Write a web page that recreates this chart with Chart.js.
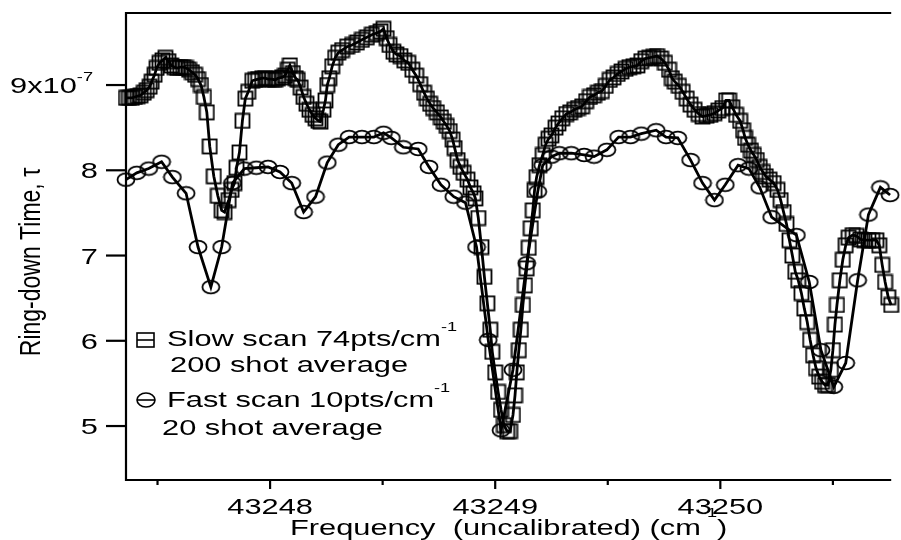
<!DOCTYPE html>
<html>
<head>
<meta charset="utf-8">
<title>Ring-down time vs frequency</title>
<script src="https://cdn.jsdelivr.net/npm/chart.js@4.4.1/dist/chart.umd.min.js"></script>
<style>
  html, body { margin: 0; padding: 0; background: #fff; }
</style>
</head>
<body>
<canvas id="ringdownChart" width="901" height="540"></canvas>
<script>
// Frequency in cm-1 (uncalibrated), ring-down time in units of 1e-7 s
const slowFreq = [
    43247.360, 43247.373, 43247.386, 43247.399, 43247.412, 43247.425, 43247.439, 43247.452, 43247.465, 43247.474,
    43247.487, 43247.496, 43247.509, 43247.522, 43247.535, 43247.548, 43247.561, 43247.575, 43247.588, 43247.601,
    43247.614, 43247.627, 43247.640, 43247.653, 43247.667, 43247.680, 43247.693, 43247.706, 43247.719, 43247.732,
    43247.750, 43247.768, 43247.785, 43247.798, 43247.816, 43247.829, 43247.842, 43247.851, 43247.864, 43247.877,
    43247.890, 43247.903, 43247.921, 43247.934, 43247.947, 43247.965, 43247.978, 43247.991, 43248.009, 43248.022,
    43248.035, 43248.053, 43248.066, 43248.079, 43248.088, 43248.101, 43248.114, 43248.123, 43248.136, 43248.149,
    43248.162, 43248.175, 43248.189, 43248.202, 43248.215, 43248.224, 43248.237, 43248.246, 43248.254, 43248.263,
    43248.276, 43248.289, 43248.303, 43248.320, 43248.342, 43248.364, 43248.386, 43248.408, 43248.430, 43248.452,
    43248.474, 43248.491, 43248.504, 43248.518, 43248.531, 43248.548, 43248.561, 43248.579, 43248.596, 43248.614,
    43248.632, 43248.649, 43248.667, 43248.684, 43248.697, 43248.711, 43248.724, 43248.741, 43248.759, 43248.772,
    43248.785, 43248.798, 43248.811, 43248.820, 43248.833, 43248.846, 43248.860, 43248.877, 43248.890, 43248.904,
    43248.912, 43248.925, 43248.939, 43248.952, 43248.965, 43248.978, 43248.987, 43249.000, 43249.013, 43249.026,
    43249.039, 43249.053, 43249.066, 43249.079, 43249.088, 43249.096, 43249.105, 43249.114, 43249.123, 43249.132,
    43249.140, 43249.149, 43249.158, 43249.167, 43249.175, 43249.184, 43249.197, 43249.211, 43249.224, 43249.237,
    43249.250, 43249.268, 43249.281, 43249.298, 43249.316, 43249.333, 43249.351, 43249.368, 43249.386, 43249.404,
    43249.421, 43249.439, 43249.456, 43249.474, 43249.491, 43249.509, 43249.526, 43249.544, 43249.561, 43249.579,
    43249.596, 43249.614, 43249.632, 43249.649, 43249.667, 43249.684, 43249.702, 43249.719, 43249.737, 43249.754,
    43249.772, 43249.785, 43249.798, 43249.816, 43249.833, 43249.851, 43249.868, 43249.886, 43249.904, 43249.921,
    43249.939, 43249.956, 43249.974, 43249.991, 43250.009, 43250.026, 43250.039, 43250.053, 43250.070, 43250.088,
    43250.101, 43250.110, 43250.123, 43250.136, 43250.149, 43250.162, 43250.175, 43250.189, 43250.202, 43250.219,
    43250.237, 43250.254, 43250.268, 43250.281, 43250.294, 43250.307, 43250.320, 43250.333, 43250.346, 43250.360,
    43250.373, 43250.386, 43250.399, 43250.412, 43250.425, 43250.439, 43250.452, 43250.465, 43250.478, 43250.491,
    43250.500, 43250.509, 43250.518, 43250.531, 43250.544, 43250.557, 43250.570, 43250.588, 43250.605, 43250.623,
    43250.640, 43250.658, 43250.675, 43250.693, 43250.706, 43250.719, 43250.732, 43250.746, 43250.759
];
const slowTau = [
    8.85, 8.85, 8.85, 8.86, 8.87, 8.88, 8.91, 8.94, 8.98, 9.04,
    9.12, 9.20, 9.26, 9.29, 9.32, 9.28, 9.23, 9.21, 9.20, 9.21,
    9.21, 9.20, 9.18, 9.15, 9.12, 9.07, 9.00, 8.86, 8.68, 8.28,
    7.93, 7.70, 7.53, 7.51, 7.65, 7.77, 7.85, 8.03, 8.21, 8.58,
    8.84, 8.92, 9.05, 9.06, 9.07, 9.08, 9.08, 9.07, 9.07, 9.06,
    9.08, 9.09, 9.11, 9.18, 9.23, 9.14, 9.08, 9.06, 8.97, 8.86,
    8.78, 8.71, 8.65, 8.61, 8.58, 8.57, 8.71, 8.82, 9.00, 9.08,
    9.22, 9.32, 9.38, 9.41, 9.45, 9.47, 9.50, 9.53, 9.56, 9.59,
    9.61, 9.63, 9.66, 9.55, 9.47, 9.39, 9.36, 9.34, 9.29, 9.26,
    9.18, 9.11, 9.01, 8.91, 8.84, 8.78, 8.73, 8.68, 8.62, 8.57,
    8.52, 8.46, 8.36, 8.26, 8.12, 8.04, 7.97, 7.89, 7.80, 7.73,
    7.67, 7.44, 7.10, 6.75, 6.44, 6.13, 5.87, 5.63, 5.40, 5.19,
    5.01, 4.94, 4.94, 5.13, 5.36, 5.63, 5.89, 6.13, 6.42, 6.65,
    6.85, 7.09, 7.32, 7.53, 7.77, 7.92, 8.06, 8.18, 8.30, 8.37,
    8.41, 8.50, 8.55, 8.61, 8.66, 8.68, 8.71, 8.73, 8.75, 8.81,
    8.86, 8.88, 8.91, 8.93, 8.99, 9.06, 9.09, 9.13, 9.16, 9.19,
    9.21, 9.22, 9.23, 9.28, 9.31, 9.32, 9.33, 9.34, 9.31, 9.26,
    9.18, 9.08, 9.04, 8.99, 8.92, 8.84, 8.77, 8.71, 8.66, 8.63,
    8.64, 8.65, 8.67, 8.70, 8.73, 8.82, 8.82, 8.74, 8.65, 8.58,
    8.47, 8.38, 8.30, 8.23, 8.18, 8.12, 8.04, 7.98, 7.93, 7.89,
    7.85, 7.77, 7.65, 7.51, 7.37, 7.18, 7.00, 6.81, 6.71, 6.56,
    6.38, 6.22, 6.01, 5.83, 5.68, 5.58, 5.52, 5.48, 5.48, 5.66,
    5.89, 6.19, 6.42, 6.71, 6.95, 7.12, 7.21, 7.24, 7.23, 7.19,
    7.18, 7.18, 7.18, 7.18, 7.12, 6.89, 6.69, 6.51, 6.42
];

const fastFreq = [
    43247.360, 43247.408, 43247.461, 43247.518, 43247.566, 43247.627, 43247.680, 43247.737, 43247.785, 43247.833,
    43247.886, 43247.939, 43247.991, 43248.044, 43248.096, 43248.149, 43248.202, 43248.254, 43248.303, 43248.351,
    43248.408, 43248.461, 43248.504, 43248.539, 43248.592, 43248.658, 43248.706, 43248.759, 43248.816, 43248.868,
    43248.917, 43248.969, 43249.026, 43249.079, 43249.140, 43249.189, 43249.211, 43249.250, 43249.285, 43249.338,
    43249.395, 43249.439, 43249.496, 43249.548, 43249.601, 43249.649, 43249.715, 43249.759, 43249.811, 43249.868,
    43249.921, 43249.974, 43250.022, 43250.079, 43250.127, 43250.175, 43250.228, 43250.338, 43250.395, 43250.447,
    43250.504, 43250.557, 43250.610, 43250.658, 43250.711, 43250.754
];
const fastTau = [
    7.89, 7.97, 8.02, 8.10, 7.92, 7.73, 7.10, 6.63, 7.10, 7.85,
    8.02, 8.03, 8.04, 7.98, 7.85, 7.51, 7.69, 8.09, 8.30, 8.39,
    8.39, 8.39, 8.44, 8.38, 8.27, 8.25, 8.04, 7.83, 7.69, 7.62,
    7.10, 6.01, 4.95, 5.66, 6.91, 7.75, 8.06, 8.16, 8.20, 8.20,
    8.18, 8.16, 8.24, 8.39, 8.39, 8.43, 8.47, 8.39, 8.38, 8.12,
    7.85, 7.65, 7.83, 8.06, 8.02, 7.80, 7.45, 7.24, 6.69, 5.89,
    5.46, 5.74, 6.71, 7.48, 7.80, 7.71
];

const yTicks = [5, 6, 7, 8, 9];
const xMajorTicks = [43248, 43249, 43250];
const xMinorTicks = [43247.5, 43248.5, 43249.5, 43250.5];

const FONT = '"Liberation Sans", Arial, Helvetica, sans-serif';
const SX = 1.4; // text in this figure is set wide

// open square marker
function makeSquareMark() {
    const c = document.createElement('canvas');
    c.width = 17; c.height = 17;
    const g = c.getContext('2d');
    g.strokeStyle = '#000';
    g.lineWidth = 1.8;
    g.strokeRect(1.5, 1.5, 14, 14);
    return c;
}

// open ellipse marker
function makeEllipseMark() {
    const c = document.createElement('canvas');
    c.width = 20; c.height = 16;
    const g = c.getContext('2d');
    g.strokeStyle = '#000';
    g.lineWidth = 1.8;
    g.beginPath();
    g.ellipse(10, 8, 8.5, 6.3, 0, 0, Math.PI * 2);
    g.stroke();
    return c;
}

// draw a run of text pieces (normal / superscript), stretched horizontally
function runWidth(ctx, parts) {
    let w = 0;
    parts.forEach(p => {
        ctx.font = (p.sup ? '13px ' : '22px ') + FONT;
        w += ctx.measureText(p.t).width * SX;
    });
    return w;
}

function drawRun(ctx, parts, x, y, align) {
    const w = runWidth(ctx, parts);
    let cx = x;
    if (align === 'center') cx = x - w / 2;
    if (align === 'right') cx = x - w;
    parts.forEach(p => {
        ctx.font = (p.sup ? '13px ' : '22px ') + FONT;
        const yy = p.sup ? y - (p.raise || 13) : y;
        ctx.save();
        ctx.translate(cx, yy);
        ctx.scale(SX, 1);
        ctx.textAlign = 'left';
        ctx.textBaseline = 'alphabetic';
        ctx.fillText(p.t, 0, 0);
        ctx.restore();
        cx += ctx.measureText(p.t).width * SX;
    });
}

const axesPlugin = {
    id: 'axesPlugin',
    afterDraw(chart) {
        const ctx = chart.ctx;
        const area = chart.chartArea;
        const xs = chart.scales.x;
        const ys = chart.scales.y;
        ctx.save();
        ctx.strokeStyle = '#000';
        ctx.fillStyle = '#000';
        ctx.lineWidth = 2.2;

        // frame: left, bottom, top
        ctx.beginPath();
        ctx.moveTo(area.right, area.top);
        ctx.lineTo(area.left, area.top);
        ctx.lineTo(area.left, area.bottom);
        ctx.lineTo(area.right, area.bottom);
        ctx.stroke();

        // y ticks and labels
        yTicks.forEach(v => {
            const py = ys.getPixelForValue(v);
            ctx.beginPath();
            ctx.moveTo(area.left - 20, py);
            ctx.lineTo(area.left, py);
            ctx.stroke();
            if (v === 9) {
                drawRun(ctx, [{ t: '9x10' }, { t: '-7', sup: true, raise: 12 }], 93, py + 8, 'right');
            } else {
                drawRun(ctx, [{ t: String(v) }], 98, py + 8, 'right');
            }
        });

        // x ticks and labels
        xMajorTicks.forEach(v => {
            const px = xs.getPixelForValue(v);
            ctx.beginPath();
            ctx.moveTo(px, area.bottom);
            ctx.lineTo(px, area.bottom + 9);
            ctx.stroke();
            drawRun(ctx, [{ t: String(v) }], px, 514, 'center');
        });
        xMinorTicks.forEach(v => {
            const px = xs.getPixelForValue(v);
            ctx.beginPath();
            ctx.moveTo(px, area.bottom);
            ctx.lineTo(px, area.bottom + 5);
            ctx.stroke();
        });

        // axis titles
        drawRun(ctx, [
            { t: 'Frequency  (uncalibrated) (cm' },
            { t: '-1', sup: true, raise: 18 },
            { t: ')' }
        ], 290, 535, 'left');

        ctx.save();
        ctx.translate(40, 262);
        ctx.scale(1.25, 1);
        ctx.rotate(-Math.PI / 2);
        ctx.font = '23px ' + FONT;
        ctx.textAlign = 'center';
        ctx.textBaseline = 'alphabetic';
        ctx.fillText('Ring-down Time, \u03C4', 0, 0);
        ctx.restore();

        // legend
        ctx.lineWidth = 1.6;
        ctx.strokeRect(137, 333, 17, 14);
        ctx.beginPath();
        ctx.moveTo(137, 340);
        ctx.lineTo(154, 340);
        ctx.stroke();
        drawRun(ctx, [{ t: 'Slow scan 74pts/cm' }, { t: '-1', sup: true, raise: 15 }], 167, 346, 'left');
        drawRun(ctx, [{ t: '200 shot average' }], 170, 372, 'left');

        ctx.beginPath();
        ctx.ellipse(146, 400, 9, 7, 0, 0, Math.PI * 2);
        ctx.stroke();
        ctx.beginPath();
        ctx.moveTo(137, 400);
        ctx.lineTo(155, 400);
        ctx.stroke();
        drawRun(ctx, [{ t: 'Fast scan 10pts/cm' }, { t: '-1', sup: true, raise: 15 }], 167, 407, 'left');
        drawRun(ctx, [{ t: '20 shot average' }], 162, 435, 'left');

        ctx.restore();
    }
};

const ctx = document.getElementById('ringdownChart').getContext('2d');

new Chart(ctx, {
    type: 'scatter',
    data: {
        datasets: [
            {
                label: 'Slow scan 74pts/cm-1',
                data: slowFreq.map((f, i) => ({ x: f, y: slowTau[i] })),
                showLine: true,
                borderColor: '#000',
                borderWidth: 2.8,
                tension: 0,
                pointStyle: makeSquareMark(),
                pointRadius: 7,
                clip: false
            },
            {
                label: 'Fast scan 10pts/cm-1',
                data: fastFreq.map((f, i) => ({ x: f, y: fastTau[i] })),
                showLine: true,
                borderColor: '#000',
                borderWidth: 2.8,
                tension: 0,
                pointStyle: makeEllipseMark(),
                pointRadius: 7,
                clip: false
            }
        ]
    },
    options: {
        responsive: false,
        animation: false,
        events: [],
        devicePixelRatio: 1,
        layout: { padding: { left: 126, top: 13, right: 0, bottom: 60 } },
        scales: {
            x: { type: 'linear', display: false, min: 43247.36, max: 43250.759 },
            y: { type: 'linear', display: false, min: 4.367, max: 9.845 }
        },
        plugins: {
            legend: { display: false },
            tooltip: { enabled: false }
        }
    },
    plugins: [axesPlugin]
});
</script>
</body>
</html>
